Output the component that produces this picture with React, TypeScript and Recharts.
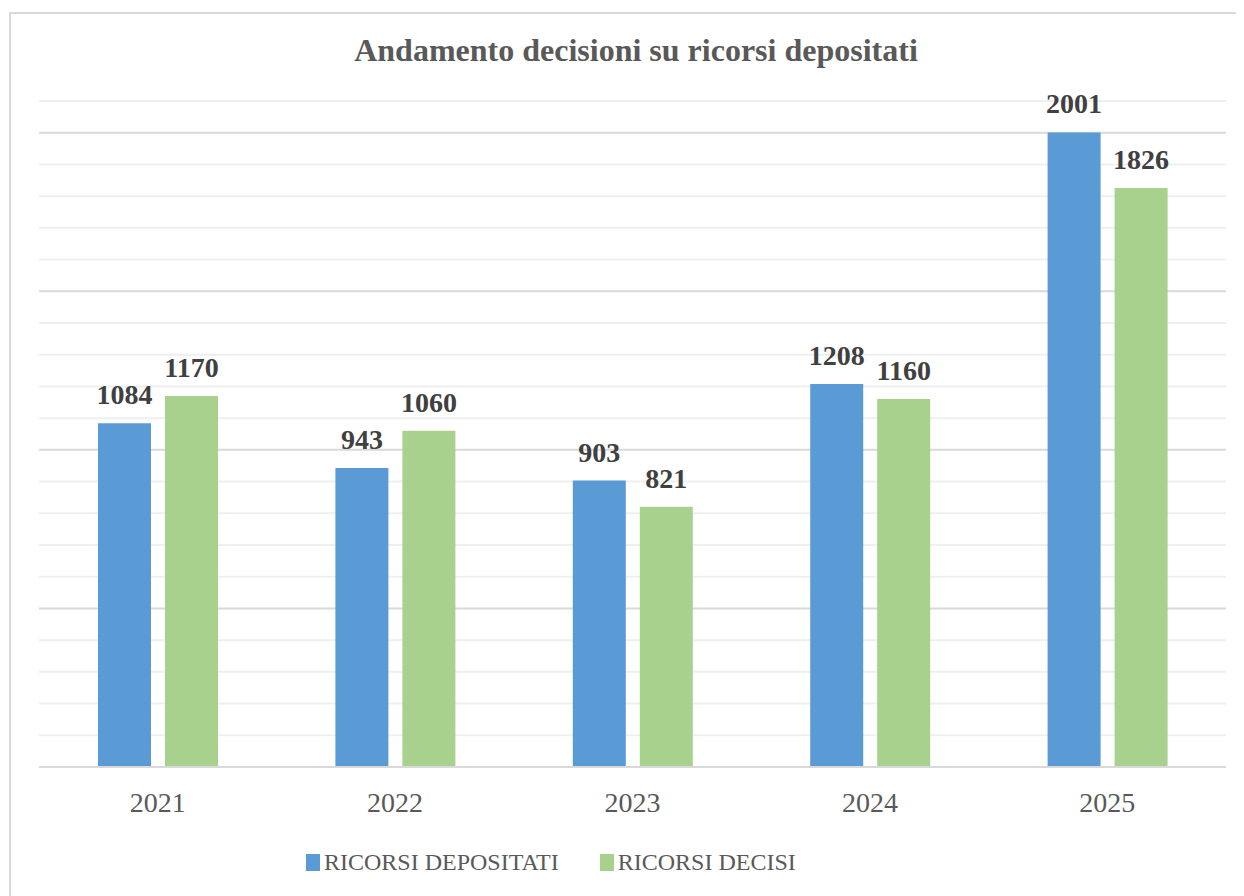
import { BarChart, Bar, XAxis, YAxis, CartesianGrid, LabelList } from 'recharts';

const years = ['2021', '2022', '2023', '2024', '2025'];
const depositati = [1084, 943, 903, 1208, 2001];
const decisi = [1170, 1060, 821, 1160, 1826];
const minorGrid = [100, 200, 300, 400, 600, 700, 800, 900, 1100, 1200, 1300, 1400, 1600, 1700, 1800, 1900, 2100];
const majorGrid = [500, 1000, 1500, 2000];

const FONT = '"Liberation Serif", "Times New Roman", serif';
const BLUE = '#5b9bd5';
const GREEN = '#a9d18e';

const data = years.map((y, i) => ({ year: y, dep: depositati[i], dec: decisi[i] }));

function LegendItem({ color, label }: { color: string; label: string }) {
  return (
    <div style={{ display: 'flex', alignItems: 'center' }}>
      <div style={{ width: 14, height: 17, background: color, marginRight: 4 }} />
      <span style={{ fontSize: 24, color: '#595959' }}>{label}</span>
    </div>
  );
}

export default function App() {
  return (
    <div style={{ position: 'relative', width: 1236, height: 888, fontFamily: FONT }}>
      <div style={{
        position: 'absolute', left: 1, top: 4, right: 0, bottom: 0,
        borderTop: '2px solid #d9d9d9', borderLeft: '2px solid #d9d9d9',
      }} />
      <div style={{
        position: 'absolute', top: 24, left: 10, width: 1236, textAlign: 'center',
        fontSize: 32, fontWeight: 700, color: '#595959',
      }}>
        Andamento decisioni su ricorsi depositati
      </div>
      <BarChart
        width={1236}
        height={888}
        data={data}
        margin={{ top: 93, right: 18, bottom: 69, left: 31 }}
        barSize={53}
        barGap={14}
      >
        <YAxis hide domain={[0, 2100]} ticks={[0, 500, 1000, 1500, 2000]} />
        <XAxis
          dataKey="year"
          height={60}
          tickLine={false}
          axisLine={{ stroke: '#d9d9d9', strokeWidth: 2 }}
          tickMargin={19}
          tick={{ fill: '#595959', fontSize: 28, fontFamily: FONT }}
        />
        <CartesianGrid vertical={false} horizontalValues={minorGrid} stroke="#efefef" strokeWidth={2} />
        <CartesianGrid vertical={false} horizontalValues={majorGrid} stroke="#d9d9d9" strokeWidth={2} />
        <Bar dataKey="dep" fill={BLUE} isAnimationActive={false}>
          <LabelList dataKey="dep" position="top" offset={19}
            style={{ fill: '#404040', fontSize: 28, fontWeight: 700, fontFamily: FONT }} />
        </Bar>
        <Bar dataKey="dec" fill={GREEN} isAnimationActive={false}>
          <LabelList dataKey="dec" position="top" offset={19}
            style={{ fill: '#404040', fontSize: 28, fontWeight: 700, fontFamily: FONT }} />
        </Bar>
      </BarChart>
      <div style={{ position: 'absolute', top: 841, left: 298, display: 'flex', gap: 41 }}>
        <LegendItem color={BLUE} label="RICORSI DEPOSITATI" />
        <LegendItem color={GREEN} label="RICORSI DECISI" />
      </div>
    </div>
  );
}
